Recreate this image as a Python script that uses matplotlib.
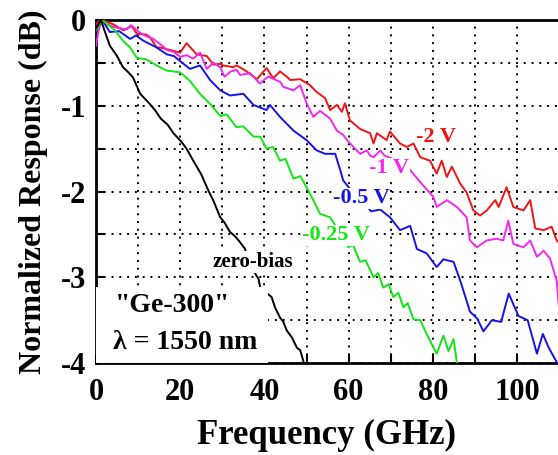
import matplotlib
matplotlib.use('Agg')
import matplotlib.pyplot as plt
from matplotlib.patches import Rectangle
from matplotlib.ticker import MultipleLocator

plt.rcParams['font.family'] = ['Liberation Serif', 'DejaVu Serif']
plt.rcParams['font.weight'] = 'bold'
plt.rcParams['axes.unicode_minus'] = False

# traced curves: frequency (GHz) and normalized response (dB)
f_2v = [0, 1, 2.5, 4.1, 6.5, 8.5, 9.7, 12, 12.8, 14.4, 15.2, 17.6, 20, 21.5, 23.9, 26.3,
        27.9, 29.5, 30.2, 32.6, 33.4, 35.8, 38.2, 40.5, 42.1, 43.7, 45.3, 46.1, 48.5, 50.8,
        52.4, 54.4, 55.6, 57.2, 58.4, 59.1, 60.3, 62.7, 65.1, 65.9, 66.7, 69, 69.8, 72.2,
        73.8, 75.4, 77, 79.3, 80.9, 82.1, 83.3, 84.5, 86.5, 88, 89.6, 91.2, 92.8, 94.8,
        95.6, 97.5, 99.1, 101.5, 103.1, 104.3, 106.3, 108.2, 109.4, 110]
r_2v = [-0.05, 0.0, -0.02, -0.05, -0.12, -0.07, -0.16, -0.17, -0.2, -0.32, -0.32, -0.35,
        -0.38, -0.27, -0.40, -0.42, -0.52, -0.51, -0.53, -0.55, -0.53, -0.60, -0.69, -0.56,
        -0.68, -0.60, -0.66, -0.70, -0.69, -0.76, -0.84, -0.91, -1.05, -0.99, -1.07, -0.97,
        -1.17, -1.27, -1.32, -1.44, -1.32, -1.40, -1.30, -1.44, -1.48, -1.44, -1.60, -1.64,
        -1.79, -1.64, -1.83, -1.71, -1.91, -2.01, -2.22, -2.28, -2.22, -2.10, -2.18, -1.95,
        -2.18, -2.22, -2.10, -2.43, -2.45, -2.41, -2.57, -2.60]

f_1v = [0, 0.7, 1.5, 2.5, 4.9, 7.3, 8.3, 10.5, 12, 13.6, 16, 16.8, 18.4, 20, 21.5, 23.1,
        24.7, 26.3, 27.9, 29.5, 30.5, 32, 33.4, 34.2, 36.6, 38.9, 40.9, 43.7, 44.5, 46.9,
        48.5, 50, 51.6, 53.2, 55.6, 57.2, 58.7, 59.6, 61.9, 62.7, 64.3, 65.1, 65.9, 67.5,
        68.5, 70.5, 72.5, 74.6, 77.7, 80.1, 80.9, 83.3, 85.7, 88, 88.8, 90.4, 92.8, 95.1,
        96.7, 97.9, 99.1, 101.5, 103.1, 104.7, 106.3, 107.8, 109.4, 110]
r_1v = [-0.3, -0.1, 0.0, -0.05, -0.09, -0.11, -0.06, -0.15, -0.19, -0.22, -0.31, -0.35,
        -0.37, -0.43, -0.41, -0.45, -0.38, -0.57, -0.50, -0.55, -0.66, -0.60, -0.58, -0.64,
        -0.62, -0.74, -0.66, -0.72, -0.78, -0.82, -0.76, -0.97, -1.13, -1.06, -1.15, -1.29,
        -1.34, -1.40, -1.52, -1.56, -1.52, -1.58, -1.60, -1.52, -1.58, -1.62, -1.66, -1.75,
        -1.93, -2.06, -2.18, -2.10, -2.18, -2.30, -2.57, -2.65, -2.57, -2.55, -2.57, -2.34,
        -2.61, -2.65, -2.57, -2.76, -2.69, -2.78, -3.04, -3.40]

f_05v = [0, 1.5, 2.5, 3.3, 5.5, 8.1, 9.5, 11.2, 14.4, 16.8, 18.5, 20, 22.3, 24.7, 27.1,
         29.5, 31.8, 35, 37.4, 40.5, 41.3, 43.7, 46.9, 50, 52.4, 54.4, 56.8, 58, 58.7, 60,
         62, 64, 65.3, 67.5, 69.8, 72.2, 74.6, 76.2, 78.5, 80.9, 82.5, 84.9, 86.5, 88.8,
         90.5, 92, 94, 96.2, 98, 100.3, 102.5, 104.7, 106.1, 107.5, 109.4, 110]
r_05v = [-0.12, 0.0, -0.08, -0.14, -0.13, -0.22, -0.18, -0.24, -0.32, -0.40, -0.42, -0.48,
         -0.57, -0.53, -0.70, -0.82, -0.88, -0.86, -0.99, -1.05, -0.99, -1.13, -1.29, -1.40,
         -1.52, -1.56, -1.56, -1.75, -1.87, -1.95, -2.05, -2.15, -2.23, -2.21, -2.30, -2.45,
         -2.40, -2.67, -2.72, -2.88, -2.79, -2.82, -3.04, -3.40, -3.48, -3.63, -3.50, -3.52,
         -3.19, -3.45, -3.50, -3.89, -3.66, -3.82, -3.99, -4.05]

f_025v = [0, 1.5, 3, 4.5, 6.4, 8.1, 9.7, 12, 14.4, 16.8, 20, 22.3, 24.7, 27.5, 29.5, 31,
          33.4, 35, 37.4, 39, 40.5, 42, 43.7, 45, 46.9, 48.5, 50, 51.6, 53.2, 55.6, 57.5,
          59.9, 61, 62.7, 64, 65.9, 67, 68.2, 69.5, 70.6, 71.8, 73, 74, 75.4, 77, 78.5,
          80.9, 82.5, 83.7, 84.9, 85.7, 86]
r_025v = [-0.12, 0.0, -0.06, -0.12, -0.24, -0.32, -0.44, -0.46, -0.53, -0.59, -0.61, -0.71,
          -0.86, -1.0, -1.12, -1.10, -1.25, -1.24, -1.36, -1.36, -1.50, -1.48, -1.64, -1.62,
          -1.85, -1.82, -1.95, -2.10, -2.26, -2.30, -2.45, -2.65, -2.62, -2.82, -2.80, -3.0,
          -2.95, -3.12, -3.08, -3.23, -3.18, -3.35, -3.30, -3.49, -3.50, -3.66, -3.89, -3.68,
          -3.86, -3.72, -4.0, -4.1]

f_0v = [0, 1.2, 2, 3.3, 5, 6.4, 7.5, 8.8, 10.5, 12.8, 14, 15.4, 17, 18.4, 20.3, 21.5, 23.1,
        25, 26.7, 28, 29.5, 30.5, 31.8, 33, 34.2, 35.4, 36.6, 37.5, 38.6, 39, 41.7, 42.5,
        43.7, 44.5, 45.3, 46.5, 47.7, 48.5, 49.2, 49.5]
r_0v = [-0.1, 0.0, -0.12, -0.30, -0.42, -0.55, -0.60, -0.67, -0.86, -0.98, -1.05, -1.15,
        -1.22, -1.32, -1.42, -1.50, -1.64, -1.80, -1.99, -2.12, -2.30, -2.36, -2.47, -2.52,
        -2.59, -2.67, -2.92, -2.93, -3.02, -3.12, -3.23, -3.35, -3.47, -3.52, -3.62, -3.70,
        -3.82, -3.85, -3.97, -4.05]

curves = [
    (f_2v, r_2v, '#f01414', '-2 V', 80.8, -1.36),
    (f_1v, r_1v, '#f028f0', '-1 V', 69.6, -1.73),
    (f_05v, r_05v, '#1414e6', '-0.5 V', 63.0, -2.08),
    (f_025v, r_025v, '#14e614', '-0.25 V', 57.0, -2.51),
    (f_0v, r_0v, 'black', 'zero-bias', 37.3, -2.82),
]

fig = plt.figure(figsize=(5.58, 4.55), dpi=100)
ax = fig.add_axes([0.172, 0.202, 0.828, 0.754])

for f, r, c, lab, lx, ly in curves:
    ax.plot(f, r, color=c, lw=1.4, zorder=3)
    fs = 15 if lab == 'zero-bias' else 16
    ax.text(lx, ly, lab, color=c, fontsize=fs, fontweight='bold', ha='center', va='center',
            zorder=5, bbox=dict(facecolor='white', edgecolor='none', pad=0.5))

# white box behind the device label
ax.add_patch(Rectangle((0, 0), 0.372, 0.222, transform=ax.transAxes,
                       facecolor='white', edgecolor='none', zorder=4))
ax.text(4.5, -3.33, '"Ge-300"', fontsize=20, fontweight='bold', va='center', zorder=6)
ax.text(4.0, -3.76, 'λ = 1550 nm', fontsize=20, fontweight='bold', va='center', zorder=6)

ax.set_xlim(0, 109.7)
ax.set_ylim(-4, 0)
ax.xaxis.set_major_locator(MultipleLocator(20))
ax.xaxis.set_minor_locator(MultipleLocator(10))
ax.yaxis.set_major_locator(MultipleLocator(1))
ax.yaxis.set_minor_locator(MultipleLocator(0.5))
ax.tick_params(which='both', direction='in', length=6, width=1.5, top=False, right=False,
               labelsize=22)
ax.tick_params(axis='x', pad=11)
ax.tick_params(axis='y', pad=7)
ax.grid(which='both', color='black', linestyle=(0, (1, 3)), linewidth=1.4, zorder=1)
ax.set_axisbelow(True)
for s in ['left', 'bottom', 'top']:
    ax.spines[s].set_linewidth(2)
ax.spines['right'].set_visible(False)

ax.set_xlabel('Frequency (GHz)', fontsize=25, fontweight='bold', labelpad=8)
ax.set_ylabel('Normalized Response (dB)', fontsize=23, fontweight='bold', labelpad=9)

fig.savefig('out.png', dpi=100)
